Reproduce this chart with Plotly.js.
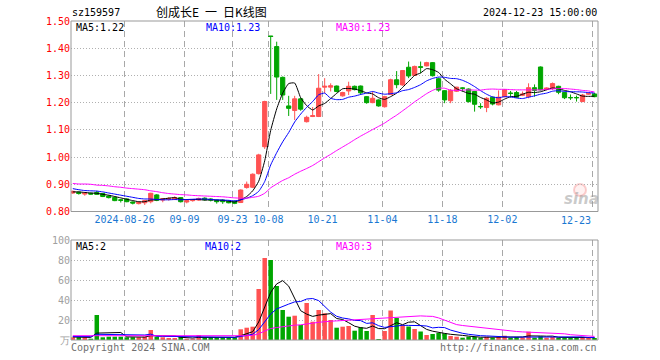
<!DOCTYPE html>
<html><head><meta charset="utf-8">
<script src="https://cdn.plot.ly/plotly-3.0.1.min.js"></script>
<style>html,body{margin:0;padding:0;background:#fff;}#chart{width:660px;height:360px;}</style>
</head><body><div id="chart"></div>
<script>
const dates = ['2024-08-13','2024-08-14','2024-08-15','2024-08-16','2024-08-19','2024-08-20','2024-08-21','2024-08-22','2024-08-23','2024-08-26','2024-08-27','2024-08-28','2024-08-29','2024-08-30',
'2024-09-02','2024-09-03','2024-09-04','2024-09-05','2024-09-06','2024-09-09','2024-09-10','2024-09-11','2024-09-12','2024-09-13','2024-09-18','2024-09-19','2024-09-20','2024-09-23','2024-09-24','2024-09-25','2024-09-26','2024-09-27','2024-09-30',
'2024-10-08','2024-10-09','2024-10-10','2024-10-11','2024-10-14','2024-10-15','2024-10-16','2024-10-17','2024-10-18','2024-10-21','2024-10-22','2024-10-23','2024-10-24','2024-10-25','2024-10-28','2024-10-29','2024-10-30','2024-10-31',
'2024-11-01','2024-11-04','2024-11-05','2024-11-06','2024-11-07','2024-11-08','2024-11-11','2024-11-12','2024-11-13','2024-11-14','2024-11-15','2024-11-18','2024-11-19','2024-11-20','2024-11-21','2024-11-22','2024-11-25','2024-11-26','2024-11-27','2024-11-28','2024-11-29',
'2024-12-02','2024-12-03','2024-12-04','2024-12-05','2024-12-06','2024-12-09','2024-12-10','2024-12-11','2024-12-12','2024-12-13','2024-12-16','2024-12-17','2024-12-18','2024-12-19','2024-12-20','2024-12-23'];

const openP = [.868,.871,.864,.867,.870,.866,.857,.852,.843,.846,
 .835,.829,.832,.836,.861,.842,.845,.845,.851,.835,
 .840,.842,.849,.846,.841,.842,.838,.838,.833,.888,
 .889,.939,1.038,1.445,1.406,1.293,1.188,1.171,1.214,1.130,
 1.149,1.149,1.257,1.257,1.261,1.225,1.243,1.260,1.261,1.222,
 1.200,1.210,1.185,1.230,1.284,1.265,1.330,1.300,1.332,1.335,
 1.347,1.288,1.244,1.207,1.242,1.254,1.250,1.241,1.186,1.182,
 1.220,1.192,1.222,1.235,1.237,1.227,1.222,1.255,1.331,1.248,
 1.253,1.260,1.237,1.219,1.219,1.204,1.231,1.232];
const highP = [.877,.873,.871,.869,.876,.868,.859,.854,.846,.848,
 .837,.836,.842,.869,.864,.849,.853,.856,.853,.842,
 .845,.851,.852,.849,.843,.845,.841,.840,.881,.910,
 .940,1.012,1.207,1.445,1.424,1.296,1.225,1.225,1.218,1.152,
 1.184,1.305,1.290,1.271,1.263,1.240,1.277,1.263,1.263,1.224,
 1.241,1.212,1.225,1.288,1.316,1.320,1.351,1.336,1.351,1.350,
 1.349,1.292,1.246,1.250,1.258,1.256,1.252,1.243,1.198,1.220,
 1.222,1.245,1.250,1.243,1.243,1.241,1.271,1.267,1.333,1.256,
 1.274,1.262,1.239,1.230,1.226,1.232,1.236,1.236];
const lowP = [.865,.862,.858,.862,.861,.853,.848,.838,.833,.834,
 .826,.826,.824,.830,.838,.834,.840,.842,.833,.830,
 .836,.839,.840,.837,.829,.828,.830,.827,.831,.884,
 .886,.936,1.030,1.232,1.210,1.210,1.151,1.136,1.170,1.127,
 1.147,1.147,1.235,1.241,1.238,1.222,1.228,1.245,1.228,1.196,
 1.198,1.185,1.182,1.228,1.253,1.262,1.290,1.298,1.308,1.333,
 1.296,1.240,1.198,1.198,1.239,1.241,1.200,1.167,1.177,1.165,
 1.190,1.190,1.220,1.219,1.218,1.224,1.216,1.222,1.245,1.246,
 1.247,1.231,1.213,1.210,1.204,1.202,1.229,1.220];
const closeP = [.874,.866,.868,.864,.863,.855,.851,.840,.841,.836,
 .831,.834,.840,.867,.841,.847,.848,.851,.836,.840,
 .843,.848,.843,.842,.836,.836,.832,.830,.879,.900,
 .937,1.008,1.204,1.443,1.294,1.228,1.179,1.214,1.176,1.146,
 1.152,1.253,1.260,1.262,1.241,1.237,1.260,1.248,1.236,1.200,
 1.216,1.188,1.222,1.284,1.266,1.318,1.298,1.333,1.330,1.347,
 1.299,1.246,1.210,1.245,1.257,1.253,1.204,1.194,1.185,1.216,
 1.195,1.220,1.247,1.234,1.220,1.232,1.255,1.245,1.247,1.254,
 1.270,1.238,1.218,1.218,1.218,1.228,1.234,1.222];
const volume = [2.7,2.7,2.7,1.3,25,2.7,3.3,3.3,3.3,2.7,
 2.7,2.7,3.3,10,3.3,2.7,2,2,3.3,1.3,
 1.3,5,2.7,2.7,2.7,2.7,2.7,2.7,10.7,12.3,
 13.3,51,82,80,54,30,23.3,24.3,15,37,
 18.3,30,26.7,20,12.3,13.3,14,9.3,12.7,9,
 25,1,9,29.5,22,15,13.5,11,8.5,5,
 6,7,6.5,4,3.3,2.3,3.3,3,2.3,3.3,
 2.3,3,4.3,2.3,3,2.5,8.3,2.3,3.7,2.3,
 3,2.3,2.3,2,2.3,2.7,2.3,2];
const ma5 = [.872,.872,.870,.868,.867,.863,.860,.855,.850,.845,
 .840,.836,.836,.842,.843,.846,.849,.851,.845,.844,
 .844,.844,.842,.843,.842,.841,.838,.835,.843,.855,
 .876,.911,.986,1.098,1.177,1.235,1.270,1.272,1.218,1.189,
 1.173,1.188,1.197,1.215,1.234,1.251,1.252,1.250,1.244,1.236,
 1.232,1.218,1.212,1.222,1.235,1.256,1.278,1.300,1.309,1.325,
 1.321,1.311,1.286,1.269,1.251,1.242,1.234,1.231,1.219,1.210,
 1.199,1.202,1.213,1.222,1.223,1.231,1.238,1.237,1.240,1.247,
 1.254,1.251,1.245,1.240,1.232,1.224,1.223,1.224];
const ma10 = [.884,.880,.877,.876,.875,.872,.868,.864,.860,.856,
 .852,.848,.846,.846,.844,.843,.843,.844,.843,.844,
 .845,.846,.846,.844,.843,.842,.841,.839,.843,.849,
 .858,.874,.910,.971,1.016,1.056,1.090,1.129,1.158,1.183,
 1.204,1.229,1.235,1.216,1.211,1.212,1.220,1.224,1.230,1.235,
 1.241,1.235,1.231,1.233,1.236,1.244,1.248,1.256,1.266,1.280,
 1.289,1.294,1.293,1.289,1.288,1.282,1.272,1.259,1.244,1.231,
 1.221,1.218,1.222,1.221,1.217,1.215,1.220,1.225,1.231,1.235,
 1.242,1.244,1.241,1.240,1.240,1.239,1.237,1.235];
const ma30 = [.903,.901,.901,.900,.897,.896,.894,.891,.889,.886,
 .884,.882,.880,.876,.873,.869,.866,.864,.862,.861,
 .859,.858,.857,.856,.855,.854,.852,.850,.849,.849,
 .852,.856,.867,.887,.901,.914,.924,.937,.948,.958,
 .969,.983,.997,1.010,1.024,1.037,1.050,1.064,1.077,1.089,
 1.101,1.113,1.125,1.140,1.154,1.170,1.186,1.203,1.218,1.233,
 1.245,1.253,1.253,1.246,1.245,1.246,1.247,1.246,1.246,1.249,
 1.250,1.249,1.249,1.248,1.247,1.247,1.247,1.247,1.247,1.249,
 1.250,1.252,1.252,1.250,1.248,1.245,1.243,1.239];
const vma5 = [3.0,2.9,2.8,2.6,6.9,6.9,7.0,7.1,7.5,3.1,
 3.1,2.9,2.9,4.3,4.4,4.4,4.3,4.0,2.7,2.3,
 2.0,2.6,2.7,2.6,2.9,3.2,2.7,2.7,4.3,6.2,
 8.3,18.0,33.9,47.7,56.1,59.4,53.9,42.3,29.3,25.9,
 23.6,24.9,25.4,26.4,21.5,20.5,17.3,13.8,12.3,11.7,
 14.0,11.4,11.3,14.7,17.3,15.3,17.8,18.2,14.0,10.6,
 8.8,7.5,6.6,5.7,5.4,4.6,3.9,3.2,2.8,2.8,
 2.8,2.8,3.0,3.0,3.0,3.0,4.1,3.7,4.0,3.8,
 3.9,2.7,2.7,2.4,2.4,2.3,2.3,2.3];
const vma10 = [3.5,3.5,3.4,3.4,5.7,5.7,5.7,5.7,5.6,5.0,
 5.0,5.0,5.0,5.9,3.7,3.7,3.6,3.5,3.5,3.3,
 3.2,3.4,3.4,2.6,2.6,2.6,2.6,2.7,3.5,4.6,
 5.8,10.4,18.3,26.0,31.1,33.9,35.9,38.1,38.5,41.0,
 41.5,39.4,33.9,27.9,23.7,22.0,21.1,19.6,19.4,16.6,
 17.2,14.3,12.6,13.5,14.5,14.7,14.6,14.8,14.4,14.0,
 12.1,12.7,12.4,9.9,8.0,6.7,5.7,4.9,4.3,4.1,
 3.7,3.3,3.1,2.9,2.9,2.9,3.4,3.4,3.5,3.4,
 3.5,3.4,3.2,3.2,3.1,3.1,2.5,2.5];
const vma30 = [4.3,4.3,4.2,4.2,4.2,4.2,4.1,4.1,4.1,4.1,
 4.0,4.0,4.0,4.0,4.0,3.9,3.9,3.9,3.9,3.8,
 3.8,3.8,3.8,3.8,3.8,3.8,3.8,3.8,4.1,4.3,
 4.6,6.2,8.9,11.5,12.5,13.4,14.1,14.8,15.2,16.3,
 16.8,17.7,18.5,18.8,19.1,19.5,19.9,20.1,20.4,20.7,
 21.5,21.4,21.6,22.5,23.1,23.5,23.9,24.2,24.1,23.8,
 23.6,22.1,19.6,17.1,15.4,14.5,13.8,13.1,12.7,11.5,
 11.0,10.1,9.4,8.8,8.5,8.1,7.9,7.7,7.4,7.2,
 6.4,6.5,6.2,5.3,4.7,4.3,3.9,3.6];

const tickDates = ['2024-08-26','2024-09-09','2024-09-23','2024-10-08','2024-10-21','2024-11-04','2024-11-18','2024-12-02','2024-12-23'];
const tickLabels = ['2024-08-26','09-09','09-23','10-08','10-21','11-04','11-18','12-02','12-23'];
const priceTicks = [0.8,0.9,1.0,1.1,1.2,1.3,1.4,1.5];
const volTicks = [0,20,40,60,80,100];
const volTickLabels = ['万','20','40','60','80','100'];

const RED = '#ff5252', GREEN = '#00a600';
const W = 660, H = 360, L = 71, R = 62, T = 21, B = 20;
const PW = W - L - R, PH = H - T - B;
const px = x => (x - L) / PW;
const py = y => (H - B - y) / PH;

const xi = dates.map((d, i) => i);
const gridShift = -0.37;
const tickVals = tickDates.map(d => dates.indexOf(d) + gridShift);
const tickText = tickLabels.map((t, k) => k === tickLabels.length - 1 ? '' : t);
const volColors = closeP.map((c, i) => (c >= openP[i] ? RED : GREEN));

const mono = 'DejaVu Sans Mono, Liberation Mono, monospace';

const traces = [
  {type: 'candlestick', x: xi, open: openP, high: highP, low: lowP, close: closeP,
   xaxis: 'x', yaxis: 'y',
   increasing: {line: {color: RED, width: 1}, fillcolor: RED},
   decreasing: {line: {color: GREEN, width: 1}, fillcolor: GREEN},
   whiskerwidth: 0, hoverinfo: 'skip'},
  {type: 'scatter', mode: 'lines', x: xi, y: ma5, xaxis: 'x', yaxis: 'y', line: {color: '#000000', width: 1, shape: 'spline', smoothing: 0.5}, hoverinfo: 'skip'},
  {type: 'scatter', mode: 'lines', x: xi, y: ma10, xaxis: 'x', yaxis: 'y', line: {color: '#0000ff', width: 1, shape: 'spline', smoothing: 0.5}, hoverinfo: 'skip'},
  {type: 'scatter', mode: 'lines', x: xi, y: ma30, xaxis: 'x', yaxis: 'y', line: {color: '#ff00ff', width: 1, shape: 'spline', smoothing: 0.5}, hoverinfo: 'skip'},
  {type: 'bar', x: xi, y: volume, xaxis: 'x2', yaxis: 'y2', marker: {color: volColors, line: {width: 0}}, hoverinfo: 'skip'},
  {type: 'scatter', mode: 'lines', x: xi, y: vma5, xaxis: 'x2', yaxis: 'y2', line: {color: '#000000', width: 1}, hoverinfo: 'skip'},
  {type: 'scatter', mode: 'lines', x: xi, y: vma10, xaxis: 'x2', yaxis: 'y2', line: {color: '#0000ff', width: 1}, hoverinfo: 'skip'},
  {type: 'scatter', mode: 'lines', x: xi, y: vma30, xaxis: 'x2', yaxis: 'y2', line: {color: '#ff00ff', width: 1}, hoverinfo: 'skip'}
];

const mainBottom = py(211.5), volTop = py(240);
const gridX = {showgrid: true, gridcolor: '#a8a8a8', gridwidth: 1, griddash: '6px,4px', zeroline: false, showline: false, ticks: ''};
const gridY = {showgrid: true, gridcolor: '#b0b0b0', gridwidth: 1, griddash: '1px,2px', zeroline: false, showline: false, ticks: ''};

function ann(text, x, y, anchor, color, size, family) {
  return {text: text, xref: 'paper', yref: 'paper', x: px(x), y: py(y), xanchor: anchor, yanchor: 'middle',
          showarrow: false, borderpad: 0, font: {family: family || mono, size: size || 10, color: color || '#000'}};
}

const layout = {
  width: W, height: H,
  margin: {l: L, r: R, t: T, b: B, pad: 0},
  paper_bgcolor: '#ffffff', plot_bgcolor: '#ffffff', showlegend: false,
  font: {family: mono, size: 10, color: '#000'},
  boxgap: 0.3, boxgroupgap: 0, bargap: 0.25,
  xaxis: Object.assign({domain: [0, 1], anchor: 'y', range: [-0.3, 87.58], tickmode: 'array', tickvals: tickVals, ticktext: tickText,
    tickfont: {family: mono, size: 10, color: '#1a78d2'}, rangeslider: {visible: false}, fixedrange: true}, gridX),
  yaxis: Object.assign({domain: [mainBottom, 1], anchor: 'x', range: [0.8, 1.5], tickmode: 'array', tickvals: priceTicks,
    ticktext: priceTicks.map(v => v.toFixed(2)), tickfont: {family: mono, size: 10, color: '#ff0000'}, fixedrange: true}, gridY),
  xaxis2: Object.assign({domain: [0, 1], anchor: 'y2', matches: 'x', range: [-0.3, 87.58], tickmode: 'array', tickvals: tickVals,
    showticklabels: false, fixedrange: true}, gridX),
  yaxis2: Object.assign({domain: [0, volTop], anchor: 'x2', range: [0, 100], tickmode: 'array', tickvals: volTicks,
    ticktext: volTickLabels, tickfont: {family: mono, size: 10, color: '#a0a0a0'}, fixedrange: true}, gridY),
  shapes: [
    {type: 'rect', xref: 'paper', yref: 'paper', x0: 0, x1: 1, y0: mainBottom, y1: 1, line: {color: '#999999', width: 1}, layer: 'above'},
    {type: 'rect', xref: 'paper', yref: 'paper', x0: 0, x1: 1, y0: 0, y1: volTop, line: {color: '#999999', width: 1}, layer: 'above'},
    {type: 'circle', xref: 'paper', yref: 'paper', x0: px(574), x1: px(586), y0: py(196), y1: py(184), line: {color: 'rgba(240,120,120,0.35)', width: 2}, fillcolor: 'rgba(255,200,200,0.25)', layer: 'below'}
  ],
  annotations: [
    ann('sz159597', 70.5, 12.5, 'left'),
    ann('创成长E\u2002一\u2002日K线图', 211, 12, 'center', '#000', 12, 'Noto Sans CJK SC'),
    ann('2024-12-23 15:00:00', 598, 12.5, 'right'),
    ann('MA5:1.22', 75, 27.5, 'left', '#000000'),
    ann('MA10:1.23', 205, 27.5, 'left', '#0000ff'),
    ann('MA30:1.23', 335, 27.5, 'left', '#ff00ff'),
    ann('MA5:2', 75, 246, 'left', '#000000'),
    ann('MA10:2', 204, 246, 'left', '#0000ff'),
    ann('MA30:3', 335, 246, 'left', '#ff00ff'),
    ann('Copyright 2024 SINA.COM', 70, 347.5, 'left', '#707070'),
    ann('http://finance.sina.com.cn', 598, 347.5, 'right', '#707070'),
    {text: '<b><i>sina</i></b>', xref: 'paper', yref: 'paper', x: px(581), y: py(199), xanchor: 'center', yanchor: 'middle', showarrow: false,
     font: {family: 'DejaVu Sans', size: 15, color: 'rgba(150,150,150,0.5)'}},
    {text: tickLabels[tickLabels.length - 1], xref: 'x', yref: 'paper', x: tickVals[tickVals.length - 1], y: py(220), xanchor: 'right', yanchor: 'middle',
     showarrow: false, borderpad: 0, font: {family: mono, size: 10, color: '#1a78d2'}}
  ]
};

Plotly.newPlot('chart', traces, layout, {staticPlot: true, displayModeBar: false});
</script>
</body></html>
